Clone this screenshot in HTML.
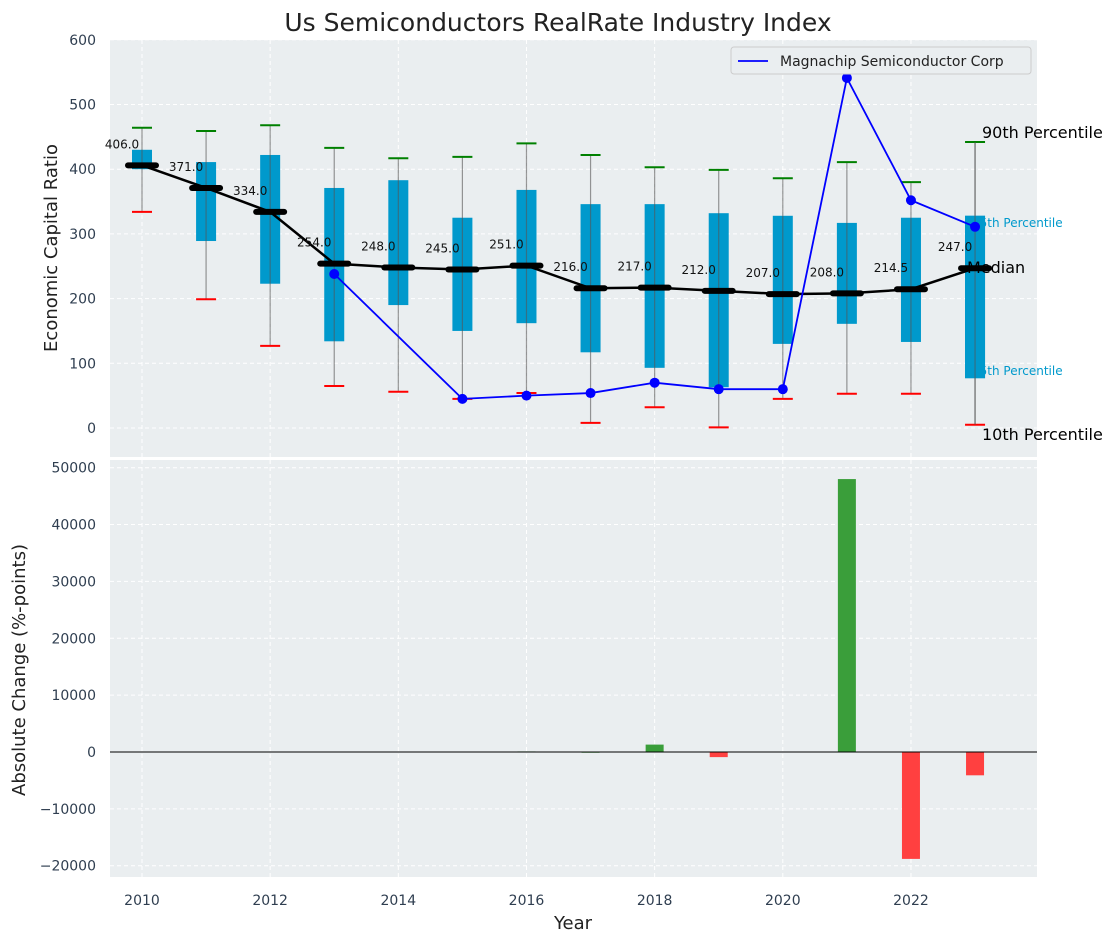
<!DOCTYPE html>
<html><head><meta charset="utf-8"><style>
html,body{margin:0;padding:0;background:#fff;}
svg{display:block;font-family:"DejaVu Sans","Liberation Sans",sans-serif;}
</style></head><body>
<svg id="chart" width="1117" height="942" xmlns="http://www.w3.org/2000/svg"></svg>
<script>
const years=[2010,2011,2012,2013,2014,2015,2016,2017,2018,2019,2020,2021,2022,2023];
const medians=[406,371,334,254,248,245,251,216,217,212,207,208,214.5,247];
const q3=[430,411,422,371,383,325,368,346,346,332,328,317,325,328];
const q1=[400,289,223,134,190,150,162,117,93,63,130,161,133,77];
const p90=[464,459,468,433,417,419,440,422,403,399,386,411,380,442];
const p10=[334,199,127,65,56,45,54,8,32,1,45,53,53,5];
const compYears=[2013,2015,2016,2017,2018,2019,2020,2021,2022,2023];
const compVals=[238,45,50,54,70,60,60,541,352,311];
const changeYears=[2016,2017,2018,2019,2021,2022,2023];
const changeVals=[100,50,1300,-900,48000,-18800,-4100];
const topTicks=[0,100,200,300,400,500,600];
const botTicks=[-20000,-10000,0,10000,20000,30000,40000,50000];
const xTicks=[2010,2012,2014,2016,2018,2020,2022];

const svg=document.getElementById('chart');
const NS='http://www.w3.org/2000/svg';
function el(tag,attrs,parent){const e=document.createElementNS(NS,tag);for(const k in attrs)e.setAttribute(k,attrs[k]);(parent||svg).appendChild(e);return e;}
const X=y=>142+(y-2010)*64.08;
const YT=v=>428-v*0.647;
const YB=v=>752-v*0.005686;
const tickColor='#2f3e50';

let bg1=el('rect',{x:110,y:40,width:927,height:417,fill:'#eaeef0'});


let bg2=el('rect',{x:110,y:460,width:927,height:417,fill:'#eaeef0'});



topTicks.forEach(t=>{el('line',{x1:110,x2:1037,y1:YT(t),y2:YT(t),stroke:'#fff','stroke-dasharray':'4,3','stroke-width':1});
 let tx=el('text',{x:96,y:YT(t)+5,'text-anchor':'end','font-size':14,fill:tickColor});tx.textContent=t;
 });
botTicks.forEach(t=>{el('line',{x1:110,x2:1037,y1:YB(t),y2:YB(t),stroke:'#fff','stroke-dasharray':'4,3','stroke-width':1});
 let tx=el('text',{x:96,y:YB(t)+5,'text-anchor':'end','font-size':14,fill:tickColor});tx.textContent=(t<0?'\u2212'+(-t):t);
 });
xTicks.forEach(t=>{el('line',{x1:X(t),x2:X(t),y1:40,y2:457,stroke:'#fff','stroke-dasharray':'4,3'});
 el('line',{x1:X(t),x2:X(t),y1:460,y2:877,stroke:'#fff','stroke-dasharray':'4,3'});
 let tx=el('text',{x:X(t),y:905,'text-anchor':'middle','font-size':14,fill:tickColor});tx.textContent=t;
 });

years.forEach((yr,i)=>{
 const x=X(yr);
 let g=el('g',{});
 
 
 el('rect',{x:x-10,y:YT(q3[i]),width:20,height:YT(q1[i])-YT(q3[i]),fill:'#0099cc'},g);
 el('line',{x1:x,x2:x,y1:YT(p90[i]),y2:YT(p10[i]),stroke:'#555','stroke-opacity':0.6,'stroke-width':1.2},g);
 el('line',{x1:x-10,x2:x+10,y1:YT(p90[i]),y2:YT(p90[i]),stroke:'green','stroke-width':2},g);
 el('line',{x1:x-10,x2:x+10,y1:YT(p10[i]),y2:YT(p10[i]),stroke:'red','stroke-width':2},g);
});
let l75=el('text',{x:972,y:227,'font-size':12,fill:'#0099cc'});l75.textContent='75th Percentile';

let l25=el('text',{x:972,y:375,'font-size':12,fill:'#0099cc'});l25.textContent='25th Percentile';

{const i=years.length-1,x=X(years[i]);
 el('rect',{x:x-10,y:YT(q3[i]),width:20,height:YT(q1[i])-YT(q3[i]),fill:'#0099cc'});
 el('line',{x1:x,x2:x,y1:YT(p90[i]),y2:YT(p10[i]),stroke:'#555','stroke-opacity':0.6,'stroke-width':1.2});}

let mp=years.map((y,i)=>X(y)+','+YT(medians[i])).join(' ');
let ml=el('polyline',{points:mp,fill:'none',stroke:'#000','stroke-width':2.5});

years.forEach((yr,i)=>{
 let m=el('line',{x1:X(yr)-14,x2:X(yr)+14,y1:YT(medians[i]),y2:YT(medians[i]),stroke:'#000','stroke-width':6,'stroke-linecap':'round'});
 
 let t=el('text',{x:X(yr)-20,y:YT(medians[i])-17,'text-anchor':'middle','font-size':12,fill:'#111'});
 t.textContent=medians[i].toFixed(1);
 
});

let cp=compYears.map((y,i)=>X(y)+','+YT(compVals[i])).join(' ');
let cl=el('polyline',{points:cp,fill:'none',stroke:'#0000ff','stroke-width':1.8});

compYears.forEach((y,i)=>{let c=el('circle',{cx:X(y),cy:YT(compVals[i]),r:5,fill:'#0000ff'});
 });

[['90th Percentile',982,138,'p90-label'],['Median',967,273,'median-label'],['10th Percentile',982,440,'p10-label']].forEach(a=>{
 let t=el('text',{x:a[1],y:a[2],'font-size':16,fill:'#000'});t.textContent=a[0];
 });

let lg=el('g',{});

el('rect',{x:731,y:47,width:300,height:27,rx:3,fill:'#eaeef0',stroke:'#ccc'},lg);
el('line',{x1:738,x2:768,y1:61,y2:61,stroke:'#0000ff','stroke-width':1.8},lg);
let lt=el('text',{x:780,y:66,'font-size':14,fill:'#222'},lg);lt.textContent='Magnachip Semiconductor Corp';

changeYears.forEach((y,i)=>{const v=changeVals[i];
 let r=el('rect',{x:X(y)-9,y:Math.min(YB(v),YB(0)),width:18,height:Math.max(1,Math.abs(YB(v)-YB(0))),fill:v>=0?'#3a9e3a':'#ff4040'});
 });
el('line',{x1:110,x2:1037,y1:YB(0),y2:YB(0),stroke:'#000','stroke-width':1});

let ti=el('text',{x:558,y:31,'text-anchor':'middle','font-size':25,fill:'#222'});ti.textContent='Us Semiconductors RealRate Industry Index';

let yl=el('text',{x:0,y:0,'text-anchor':'middle','font-size':18,fill:'#222',transform:'translate(57,248) rotate(-90)'});yl.textContent='Economic Capital Ratio';

let yl2=el('text',{x:0,y:0,'text-anchor':'middle','font-size':18,fill:'#222',transform:'translate(25,670) rotate(-90)'});yl2.textContent='Absolute Change (%-points)';

let xl=el('text',{x:573,y:929,'text-anchor':'middle','font-size':18,fill:'#222'});xl.textContent='Year';

</script>
</body></html>
